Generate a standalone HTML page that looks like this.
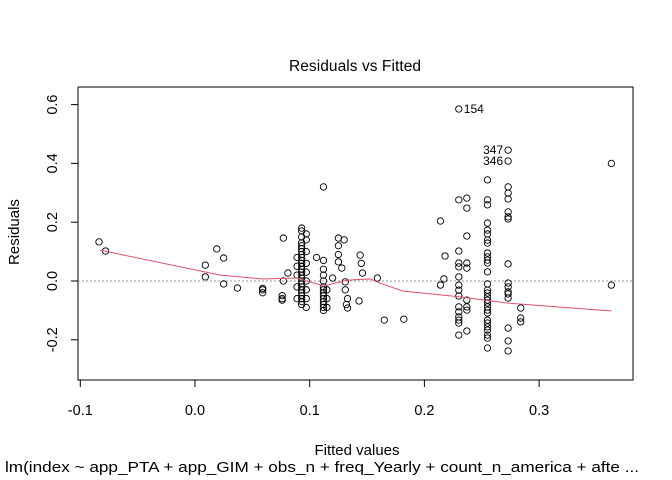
<!DOCTYPE html>
<html><head><meta charset="utf-8"><style>
body{margin:0;background:#fff}
svg{display:block;font-family:"Liberation Sans",Arial,sans-serif}
</style></head><body>
<svg id="c" width="672" height="480" xmlns="http://www.w3.org/2000/svg">
<text x="355" y="71" font-size="15.5" text-anchor="middle" textLength="132">Residuals vs Fitted</text>
<text x="357" y="455" font-size="15" text-anchor="middle">Fitted values</text>
<text x="322" y="472" font-size="15" text-anchor="middle" textLength="634" lengthAdjust="spacingAndGlyphs">lm(index ~ app_PTA + app_GIM + obs_n + freq_Yearly + count_n_america + afte ...</text>
<text transform="translate(19,232) rotate(-90)" font-size="15" text-anchor="middle">Residuals</text>
<rect x="78" y="87" width="555" height="293" fill="none" stroke="#000"/>
<g id="g"></g>
</svg>
<script>
const xTicks=[-0.1,0.0,0.1,0.2,0.3];
const xTickLabels=["-0.1","0.0","0.1","0.2","0.3"];
const yTicks=[-0.2,0.0,0.2,0.4,0.6];
const yTickLabels=["-0.2","0.0","0.2","0.4","0.6"];
const fitted=[-0.0837,-0.078,0.009,0.009,0.019,0.025,0.025,0.037,0.059,0.059,0.059,0.076,0.076,0.076,0.077,0.081,0.077,
0.093,0.093,0.093,0.093,0.093,0.093,0.093,0.093,0.093,0.093,0.093,0.093,0.093,0.093,0.093,0.093,0.093,0.093,0.093,0.093,0.093,0.093,0.093,0.093,0.093,
0.097,0.097,0.097,0.097,0.097,0.097,0.097,0.097,0.097,0.089,0.089,0.089,0.089,0.089,
0.106,0.112,0.112,0.112,0.112,0.112,0.112,0.112,0.112,0.112,0.112,0.112,0.112,0.112,0.112,0.115,0.115,0.115,0.12,
0.125,0.125,0.125,0.125,0.13,0.128,0.131,0.131,0.133,0.133,0.132,0.144,0.145,0.146,0.143,
0.23,0.273,0.273,0.363,0.363,0.214,0.218,0.159,0.165,0.182,0.214,0.217,
0.23,0.23,0.23,0.23,0.23,0.23,0.23,0.23,0.23,0.23,0.23,0.23,0.23,0.23,
0.237,0.237,0.237,0.237,0.237,0.237,0.237,0.237,0.237,
0.255,0.255,0.255,0.255,0.255,0.255,0.255,0.255,0.255,0.255,0.255,0.255,0.255,0.255,0.255,0.255,0.255,0.255,0.255,0.255,0.255,0.255,0.255,0.255,0.255,0.255,0.255,0.255,0.255,
0.273,0.273,0.273,0.273,0.273,0.273,0.273,0.273,0.273,0.273,0.273,0.273,0.273,0.273,0.273,
0.284,0.284,0.284];
const residuals=[0.133,0.102,0.054,0.014,0.109,0.078,-0.01,-0.024,-0.025,-0.04,-0.03,-0.05,-0.06,-0.065,0.146,0.027,0.0,
0.18,0.17,0.15,0.13,0.12,0.11,0.10,0.09,0.08,0.07,0.06,0.05,0.04,0.03,0.02,0.01,0.0,-0.01,-0.02,-0.03,-0.04,-0.05,-0.06,-0.07,-0.08,
0.16,0.14,0.10,0.06,0.03,0.0,-0.03,-0.06,-0.09,0.08,0.05,0.02,-0.02,-0.06,
0.08,0.32,0.07,0.04,0.02,0.0,-0.02,-0.03,-0.04,-0.05,-0.06,-0.07,-0.08,-0.09,-0.10,-0.03,-0.06,-0.09,0.01,
0.146,0.12,0.09,0.065,0.14,0.044,-0.003,-0.03,-0.06,-0.092,-0.08,0.088,0.06,0.027,-0.068,
0.585,0.445,0.408,0.40,-0.014,0.204,0.085,0.01,-0.133,-0.13,-0.014,0.007,
0.276,0.102,0.061,0.048,0.014,-0.014,-0.031,-0.051,-0.088,-0.105,-0.122,-0.133,-0.143,-0.184,
0.282,0.248,0.153,0.061,0.044,-0.065,-0.088,-0.099,-0.17,
0.344,0.276,0.259,0.197,0.173,0.160,0.139,0.129,0.095,0.082,0.071,0.061,0.031,-0.010,-0.031,-0.041,-0.054,-0.065,-0.075,-0.088,-0.099,-0.109,-0.133,-0.143,-0.156,-0.167,-0.184,-0.194,-0.228,
0.320,0.299,0.279,0.235,0.218,0.211,0.058,-0.007,-0.020,-0.037,-0.044,-0.058,-0.160,-0.204,-0.238,
-0.092,-0.126,-0.139];
const smoothX=[-0.083,0.022,0.059,0.089,0.112,0.133,0.153,0.161,0.181,0.231,0.272,0.363];
const smoothY=[0.105,0.020,0.007,0.010,-0.017,0.003,0.007,-0.007,-0.034,-0.054,-0.075,-0.102];
const labelIds=["154","347","346"];
const labelX=[0.23,0.273,0.273];
const labelY=[0.585,0.445,0.408];
const labelSide=[1,-1,-1];

const NS="http://www.w3.org/2000/svg";
const sx=v=>195+v*1147;
const sy=v=>281-v*294;
const g=document.getElementById('g');
function mk(t,a){const e=document.createElementNS(NS,t);for(const k in a)e.setAttribute(k,a[k]);g.appendChild(e);return e;}
xTicks.forEach((v,i)=>{
 const l=mk('line',{x1:sx(v),x2:sx(v),y1:380,y2:387,stroke:'#000'});
 
 
 const t=mk('text',{x:sx(v),y:415,'font-size':14.5,'text-anchor':'middle'});t.textContent=xTickLabels[i];
 
 
});
mk('line',{x1:sx(-0.1),x2:sx(0.3),y1:380,y2:380,stroke:'#000'});
yTicks.forEach((v,i)=>{
 const l=mk('line',{x1:71,x2:78,y1:sy(v),y2:sy(v),stroke:'#000'});
 
 
 const t=mk('text',{transform:`translate(57,${sy(v)}) rotate(-90)`,'font-size':14.5,'text-anchor':'middle'});t.textContent=yTickLabels[i];
 
 
});
const z=mk('line',{x1:78,x2:633,y1:sy(0),y2:sy(0),stroke:'#999','stroke-dasharray':'2,2'});


fitted.forEach((v,i)=>{
 const c=mk('circle',{cx:sx(v),cy:sy(residuals[i]),r:3.2,fill:'none',stroke:'#000','stroke-width':0.9});
 
 
});
const p=mk('polyline',{points:smoothX.map((v,i)=>sx(v)+','+sy(smoothY[i])).join(' '),fill:'none',stroke:'#DF536B','stroke-width':1});


labelIds.forEach((s,i)=>{
 const t=mk('text',{x:sx(labelX[i])+labelSide[i]*5,y:sy(labelY[i])+4,'font-size':12,'text-anchor':labelSide[i]>0?'start':'end'});t.textContent=s;
 
 
});
</script>
</body></html>
